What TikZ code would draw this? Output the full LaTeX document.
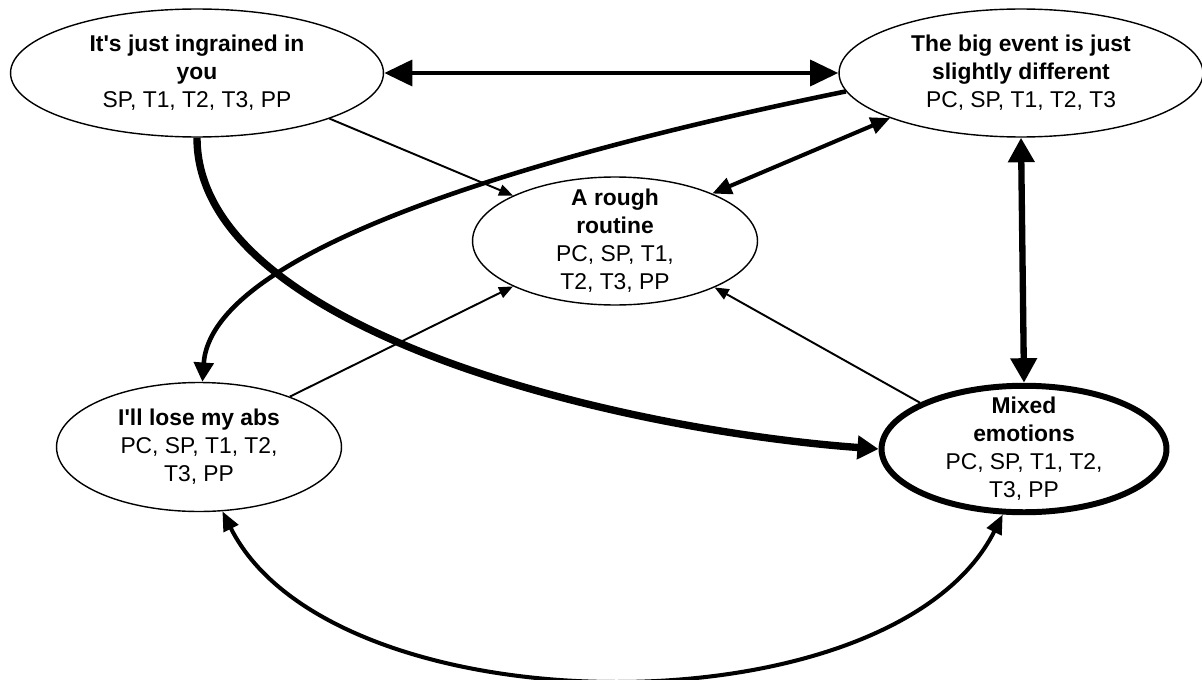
\documentclass[tikz,border=0pt]{standalone}
\usepackage{fontspec}
\setmainfont{Liberation Sans}
\usetikzlibrary{arrows.meta,shapes.geometric}
\begin{document}
\begin{tikzpicture}[x=0.02cm,y=-0.02cm,
  ell/.style={draw, ellipse, line width=0.8pt, inner sep=0pt, fill=white},
  lbl/.style={font=\fontsize{13}{16}\selectfont, align=center, inner sep=0pt},
  thinarr/.style={line width=1.1pt, -{Triangle[length=8pt,width=6.5pt]}},
  dblthick/.style={line width=2.8pt, {Triangle[length=16pt,width=14.5pt]}-{Triangle[length=16pt,width=14.5pt]}},
  dblvert/.style={line width=3.6pt, {Triangle[length=14pt,width=14.5pt]}-{Triangle[length=14pt,width=14.5pt]}},
  dblmed/.style={line width=2.3pt, {Triangle[length=11pt,width=9.5pt]}-{Triangle[length=11pt,width=9.5pt]}},
  heavyarr/.style={line width=4.2pt, -{Triangle[length=12pt,width=13pt]}},
  medarr/.style={line width=2.6pt, -{Triangle[length=11pt,width=11pt]}},
  dblcurve/.style={line width=2.3pt, {Triangle[length=11pt,width=9pt]}-{Triangle[length=11pt,width=9pt]}}
]
\useasboundingbox (0,0) rectangle (1202,679);

% ellipses
\node[ell, minimum width=7.46cm, minimum height=2.56cm] (ing) at (197,73) {};
\node[ell, minimum width=7.28cm, minimum height=2.56cm] (big) at (1021,73) {};
\node[ell, minimum width=5.7cm, minimum height=2.56cm] (rou) at (615,241) {};
\node[ell, minimum width=5.7cm, minimum height=2.58cm] (abs) at (199,447) {};
\node[ell, line width=3.4pt, minimum width=5.7cm, minimum height=2.53cm] (mix) at (1024,449) {};

% texts
\node[lbl] (ingT) at (ing.center) {\textbf{It\textquotesingle s just ingrained in}\\\textbf{you}\\SP, T1, T2, T3, PP};
\node[lbl] (bigT) at (big.center) {\textbf{The big event is just}\\\textbf{slightly different}\\PC, SP, T1, T2, T3};
\node[lbl] (rouT) at (rou.center) {\textbf{A rough}\\\textbf{routine}\\PC, SP, T1,\\T2, T3, PP};
\node[lbl] (absT) at (abs.center) {\textbf{I\textquotesingle ll lose my abs}\\PC, SP, T1, T2,\\T3, PP};
\node[lbl] (mixT) at (mix.center) {\textbf{Mixed}\\\textbf{emotions}\\PC, SP, T1, T2,\\T3, PP};

% connectors
\draw[dblthick] (ing.east) -- (big.west);
\draw[thinarr] (ing.-19) -- (rou.156);
\draw[heavyarr] (ing.south) .. controls +(0,193) and +(-260,-19) .. (mix.west);
\draw[medarr] (big.186) .. controls +(-245,50) and +(10,-143) .. (abs.87);
\draw[dblmed] (big.199) -- (rou.26);
\draw[dblvert] (big.south) -- (mix.north);
\draw[thinarr] (abs.29) -- (rou.204);
\draw[thinarr] (mix.156) -- (rou.-25);
\draw[dblcurve] (abs.-70) .. controls +(110,220) and +(-110,220) .. (mix.-108);
\end{tikzpicture}
\end{document}
